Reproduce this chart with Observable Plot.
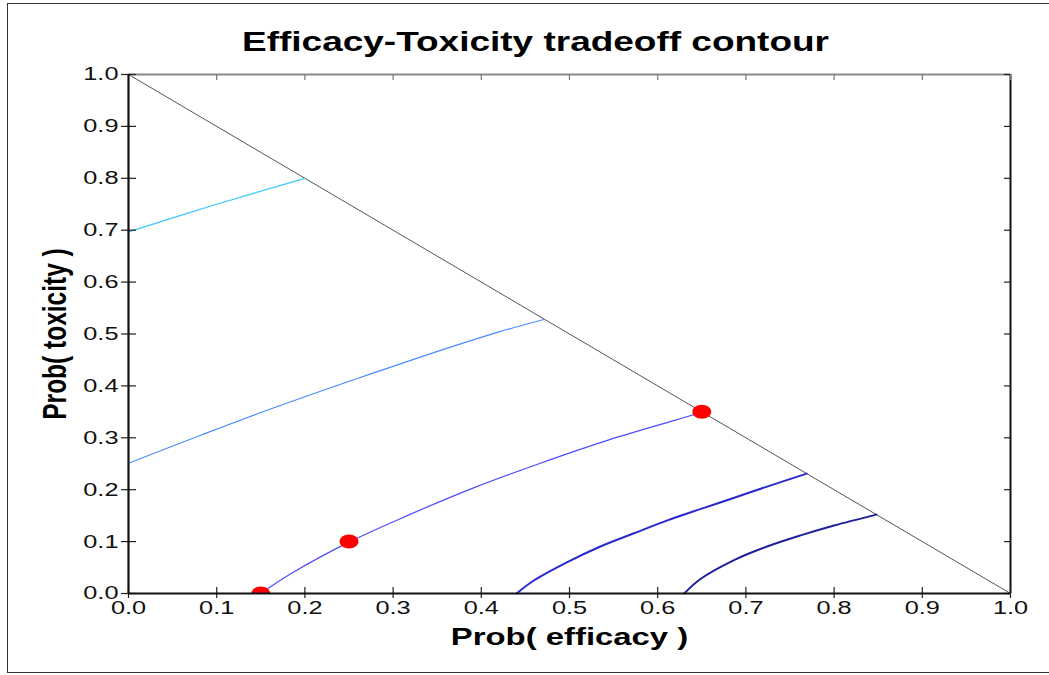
<!DOCTYPE html>
<html>
<head>
<meta charset="utf-8">
<script src="https://cdn.jsdelivr.net/npm/d3@7"></script>
<script src="https://cdn.jsdelivr.net/npm/@observablehq/plot@0.6"></script>
<style>
  html, body { margin: 0; padding: 0; background: #fff; }
  #wrap { position: relative; width: 1049px; height: 675px; overflow: hidden; }
  #border { position: absolute; left: 7px; top: 3px; width: 1100px; height: 670px;
            border: 1.5px solid #333; pointer-events: none; box-sizing: border-box; }
</style>
</head>
<body>
<div id="wrap"><div id="border"></div></div>
<script>
// ---- Data ----
const title = "Efficacy-Toxicity tradeoff contour";
const xLabel = "Prob( efficacy )";
const yLabel = "Prob( toxicity )";
const xTicks = [0, 0.1, 0.2, 0.3, 0.4, 0.5, 0.6, 0.7, 0.8, 0.9, 1.0];
const yTicks = [0, 0.1, 0.2, 0.3, 0.4, 0.5, 0.6, 0.7, 0.8, 0.9, 1.0];
const domain = [0, 1];

// boundary line πE + πT = 1
const boundaryE = [0, 1];
const boundaryT = [1, 0];

// contours (efficacy, toxicity)
const c1E = [0.000, 0.100, 0.200];
const c1T = [0.697, 0.750, 0.800];
const c2E = [0.000, 0.082, 0.157, 0.252, 0.346, 0.422, 0.471];
const c2T = [0.251, 0.305, 0.353, 0.410, 0.464, 0.505, 0.528];
const c3E = [0.150, 0.184, 0.250, 0.316, 0.392, 0.467, 0.543, 0.618, 0.650];
const c3T = [0.000, 0.038, 0.099, 0.150, 0.204, 0.251, 0.295, 0.333, 0.349];
const c4E = [0.440, 0.4596, 0.497, 0.535, 0.573, 0.611, 0.649, 0.686, 0.724, 0.769];
const c4T = [0.000, 0.025, 0.060, 0.0906, 0.116, 0.141, 0.163, 0.184, 0.206, 0.231];
const c5E = [0.630, 0.6485, 0.686, 0.724, 0.762, 0.800, 0.848];
const c5T = [0.000, 0.028, 0.064, 0.0906, 0.112, 0.131, 0.152];
const contourColors = ["#3cc8ff", "#4a8cff", "#4c4cff", "#2828cc", "#20209a"];
const contourWidths = [1.3, 1.2, 1.2, 2, 2];

// design points
const dotE = [0.15, 0.25, 0.65];
const dotT = [0.00, 0.10, 0.35];

// ---- Build tables ----
const contours = [[c1E, c1T], [c2E, c2T], [c3E, c3T], [c4E, c4T], [c5E, c5T]]
  .map(([E, T], k) => E.map((e, i) => ({e, t: T[i], k})));
const boundary = boundaryE.map((e, i) => ({e, t: boundaryT[i]}));
const dots = dotE.map((e, i) => ({e, t: dotT[i]}));

// ellipse symbol (wider than tall, as in the stretched reference)
const ellipse = {
  draw(ctx, size) {
    const r = Math.sqrt(size / Math.PI);
    const rx = r * 1.35, ry = r, k = 0.5523;
    ctx.moveTo(rx, 0);
    ctx.bezierCurveTo(rx, ry * k, rx * k, ry, 0, ry);
    ctx.bezierCurveTo(-rx * k, ry, -rx, ry * k, -rx, 0);
    ctx.bezierCurveTo(-rx, -ry * k, -rx * k, -ry, 0, -ry);
    ctx.bezierCurveTo(rx * k, -ry, rx, -ry * k, rx, 0);
    ctx.closePath();
  }
};

const W = 1049, H = 675;
const mL = 128, mR = 39, mT = 74, mB = 82;
const iW = W - mL - mR, iH = H - mT - mB;
const fmt = d3.format(".1f");

const marks = [
  Plot.line(boundary, {x: "e", y: "t", stroke: "#555", strokeWidth: 1}),
  ...contours.map((c, k) => Plot.line(c, {x: "e", y: "t", stroke: contourColors[k],
      strokeWidth: contourWidths[k], curve: "catmull-rom"})),
  Plot.dot(dots, {x: "e", y: "t", r: 7, symbol: ellipse, fill: "#ff0000", stroke: "none", clip: true}),
  Plot.ruleY([domain[1]], {stroke: "#888", strokeWidth: 2}),
  Plot.ruleX([domain[1]], {stroke: "#111", strokeWidth: 2}),
  Plot.ruleX(xTicks, {x: d => d, insetTop: iH - 6, stroke: "#222", strokeWidth: 1.2}),
  Plot.ruleX(xTicks, {x: d => d, insetBottom: iH - 6, stroke: "#777", strokeWidth: 1.2}),
  Plot.ruleY(yTicks, {y: d => d, insetRight: iW - 8, stroke: "#222", strokeWidth: 1.2}),
  Plot.ruleY(yTicks, {y: d => d, insetLeft: iW - 6, stroke: "#222", strokeWidth: 1.2}),
  Plot.axisX(xTicks, {anchor: "bottom", tickSize: 5, tickPadding: 2, tickFormat: fmt,
      fontSize: 18.5, fill: "#111", stroke: "#222", strokeWidth: 1.2, label: null}),
  Plot.axisY(yTicks, {anchor: "left", tickSize: 7, tickPadding: 3, tickFormat: fmt,
      fontSize: 18.5, fill: "#111", stroke: "#222", strokeWidth: 1.2, label: null}),
  Plot.ruleY([domain[0]], {stroke: "#111", strokeWidth: 2.2}),
  Plot.ruleX([domain[0]], {stroke: "#111", strokeWidth: 2.2}),
  Plot.text([title], {frameAnchor: "top", dy: -43, dx: -34, text: d => d,
      fontSize: 27, fontWeight: "bold", fill: "#000"}),
  Plot.text([xLabel], {frameAnchor: "bottom", dy: 51, text: d => d,
      fontSize: 24, fontWeight: "bold", fill: "#000"}),
  Plot.text([yLabel], {frameAnchor: "left", dx: -73, rotate: -90, textAnchor: "middle", text: d => d,
      fontSize: 24.5, fontWeight: "bold", fill: "#000"})
];

const chart = Plot.plot({
  width: W, height: H,
  marginLeft: mL, marginRight: mR, marginTop: mT, marginBottom: mB,
  x: {domain, label: null},
  y: {domain, label: null},
  style: {fontFamily: "'Liberation Sans', Arial, sans-serif", background: "#fff", overflow: "visible"},
  marks
});

// The reference is horizontally stretched: widen every text about its anchor.
const S = 1.37;
d3.select(chart).selectAll("text").each(function() {
  const el = d3.select(this);
  const T = el.attr("transform") || "";
  let tx = 0, ty = 0;
  const m = T.match(/^translate\(\s*([-\d.e]+)[ ,]\s*([-\d.e]+)\s*\)/);
  if (m) { tx = +m[1]; ty = +m[2]; }
  const ax = tx + (+el.attr("x") || 0), ay = ty + (+el.attr("y") || 0);
  el.attr("transform", `translate(${ax},${ay}) scale(${S},1) translate(${-ax},${-ay}) ${T}`);
});

document.getElementById("wrap").prepend(chart);
</script>
</body>
</html>
